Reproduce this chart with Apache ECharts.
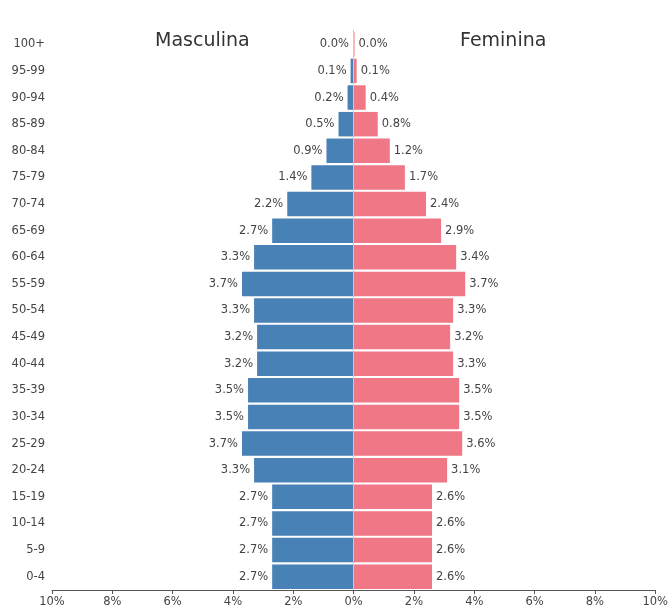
<!DOCTYPE html>
<html>
<head>
<meta charset="utf-8">
<script src="https://cdn.jsdelivr.net/npm/echarts@6/dist/echarts.min.js"></script>
<style>
  html, body { margin: 0; padding: 0; background: #fff; }
  #chart { width: 671px; height: 609px; }
</style>
</head>
<body>
<div id="chart"></div>
<script>
// faixas etarias, de cima para baixo
var ageGroups = ['100+', '95-99', '90-94', '85-89', '80-84', '75-79', '70-74', '65-69',
  '60-64', '55-59', '50-54', '45-49', '40-44', '35-39', '30-34', '25-29',
  '20-24', '15-19', '10-14', '5-9', '0-4'];
// % da populacao
var maleValues = [0.02, 0.1, 0.2, 0.5, 0.9, 1.4, 2.2, 2.7, 3.3, 3.7, 3.3, 3.2, 3.2,
  3.5, 3.5, 3.7, 3.3, 2.7, 2.7, 2.7, 2.7];
var femaleValues = [0.03, 0.1, 0.4, 0.8, 1.2, 1.7, 2.4, 2.9, 3.4, 3.7, 3.3, 3.2, 3.3,
  3.5, 3.5, 3.6, 3.1, 2.6, 2.6, 2.6, 2.6];
var xTicks = [-10, 10, 2]; // min, max, interval

var font = 'DejaVu Sans';
var chart = echarts.init(document.getElementById('chart'));

chart.setOption({
  animation: false,
  textStyle: { fontFamily: font },
  title: [
    { text: 'Masculina', left: 150, top: 27,
      textStyle: { fontSize: 19, fontWeight: 'normal', color: '#333', fontFamily: font } },
    { text: 'Feminina', left: 455, top: 27,
      textStyle: { fontSize: 19, fontWeight: 'normal', color: '#333', fontFamily: font } }
  ],
  grid: { left: 52, right: 15, top: 31, bottom: 19 },
  xAxis: {
    type: 'value',
    min: xTicks[0],
    max: xTicks[1],
    interval: xTicks[2],
    axisLine: { show: true, lineStyle: { color: '#555' } },
    axisTick: { show: true, length: 4, lineStyle: { color: '#555' } },
    axisLabel: {
      color: '#444', fontSize: 11.5, margin: 6,
      formatter: function (v) { return Math.abs(v) + '%'; }
    },
    splitLine: { show: false }
  },
  yAxis: {
    type: 'category',
    inverse: true,
    data: ageGroups,
    axisLine: { show: true, lineStyle: { color: '#555' } },
    axisTick: { show: false },
    axisLabel: { color: '#444', fontSize: 11.5, margin: 7 }
  },
  series: [
    {
      name: 'Masculina',
      type: 'bar',
      stack: 'pop',
      barCategoryGap: '8%',
      data: maleValues.map(function (v) { return -v; }),
      itemStyle: { color: '#4781b6' },
      label: {
        show: true,
        position: 'left',
        distance: 4,
        color: '#444',
        fontSize: 11.5,
        formatter: function (p) { return Math.abs(p.value).toFixed(1) + '%'; }
      },
      markLine: {
        silent: true,
        symbol: 'none',
        label: { show: false },
        lineStyle: { color: '#ccc', width: 1, type: 'solid' },
        data: [{ xAxis: 0 }]
      }
    },
    {
      name: 'Feminina',
      type: 'bar',
      stack: 'pop',
      barCategoryGap: '8%',
      data: femaleValues,
      itemStyle: { color: '#ef7786' },
      label: {
        show: true,
        position: 'right',
        distance: 4,
        color: '#444',
        fontSize: 11.5,
        formatter: function (p) { return p.value.toFixed(1) + '%'; }
      }
    }
  ]
});
</script>
</body>
</html>
